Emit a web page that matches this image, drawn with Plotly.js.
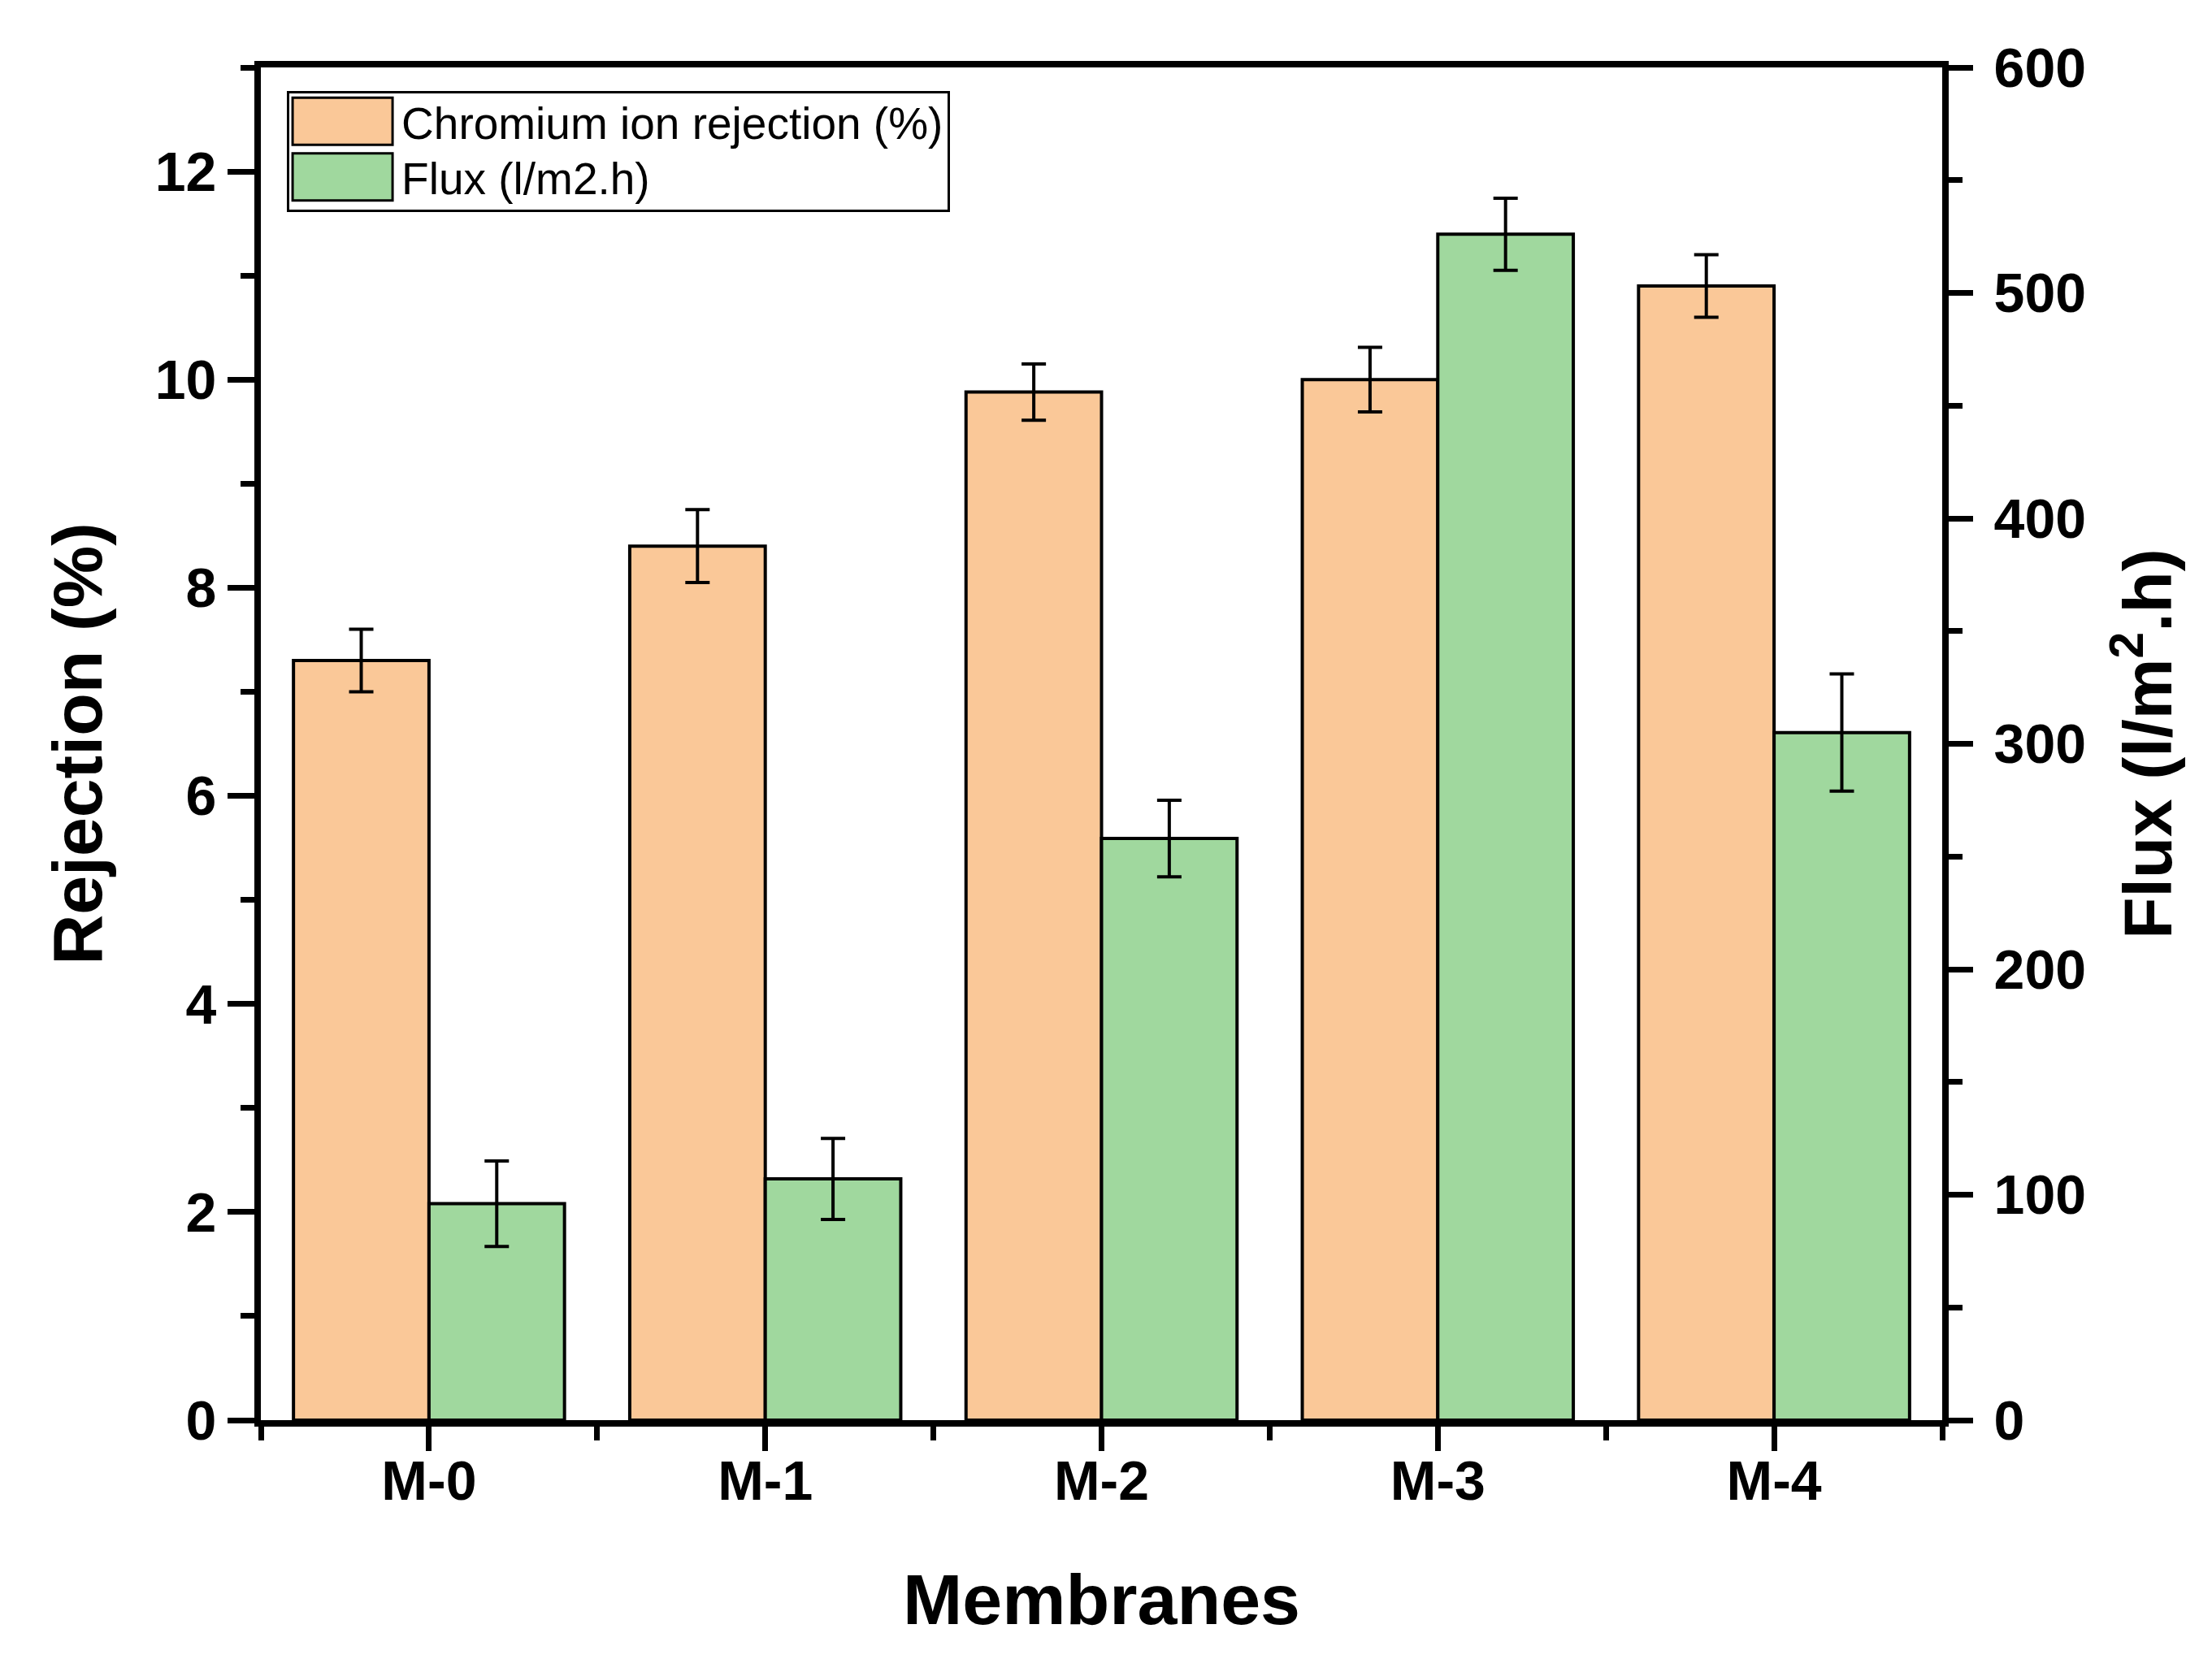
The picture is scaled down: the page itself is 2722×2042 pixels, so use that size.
<!DOCTYPE html>
<html>
<head>
<meta charset="utf-8">
<script src="https://cdn.plot.ly/plotly-3.0.1.min.js"></script>
<style>
  html, body { margin: 0; padding: 0; background: #ffffff; }
  #chart { width: 2722px; height: 2042px; }
</style>
</head>
<body>
<div id="chart"></div>
<script>
// ---- data ----
const categories = ['M-0', 'M-1', 'M-2', 'M-3', 'M-4'];
const rejection = [7.3, 8.4, 9.88, 10.0, 10.9];          // %
const rejectionErr = [0.3, 0.35, 0.27, 0.31, 0.3];
const flux = [96, 107, 258, 526, 305];                    // l/m2.h
const fluxErr = [19, 18, 17, 16, 26];
const seriesNames = ['Chromium ion rejection (%)', 'Flux (l/m2.h)'];
const leftTicks = [0, 2, 4, 6, 8, 10, 12];
const rightTicks = [0, 100, 200, 300, 400, 500, 600];

const xPos = categories.map((c, i) => i);

const FONT = 'Arial, "Liberation Sans", sans-serif';
const BAR_W = 0.403;

const data = [
  {
    type: 'bar', name: seriesNames[0],
    x: xPos, y: rejection, yaxis: 'y',
    width: BAR_W, offset: -BAR_W,
    marker: { color: '#FAC898', line: { color: '#000000', width: 4 } },
    error_y: { type: 'data', array: rejectionErr, visible: true, color: '#000000', thickness: 4, width: 15 }
  },
  {
    type: 'bar', name: seriesNames[1],
    x: xPos, y: flux, yaxis: 'y2',
    width: BAR_W, offset: 0,
    marker: { color: '#A0D89E', line: { color: '#000000', width: 4 } },
    error_y: { type: 'data', array: fluxErr, visible: true, color: '#000000', thickness: 4, width: 15 }
  }
];

const layout = {
  width: 2722, height: 2042,
  margin: { l: 321, r: 332, t: 83, b: 294, pad: 0 },
  paper_bgcolor: '#ffffff', plot_bgcolor: '#ffffff',
  barmode: 'overlay',
  showlegend: true,
  font: { family: FONT, color: '#000000' },
  xaxis: {
    range: [-0.5, 4.5],
    tickmode: 'array', tickvals: xPos, ticktext: categories,
    ticks: 'outside', ticklen: 30, tickwidth: 7, tickcolor: '#000000',
    minor: { dtick: 0.5, tick0: 0, ticks: 'outside', ticklen: 17, tickwidth: 7, tickcolor: '#000000' },
    showline: true, linewidth: 8, linecolor: '#000000', mirror: true,
    showgrid: false, zeroline: false,
    tickfont: { family: FONT, size: 68, weight: 'bold', color: '#000000' },
    ticklabelstandoff: -22,
    title: { text: 'Membranes', font: { family: FONT, size: 88, weight: 'bold', color: '#000000' }, standoff: 82 }
  },
  yaxis: {
    range: [0, 13],
    tickmode: 'array', tickvals: leftTicks,
    ticks: 'outside', ticklen: 33, tickwidth: 7, tickcolor: '#000000',
    minor: { dtick: 1, tick0: 0, ticks: 'outside', ticklen: 17, tickwidth: 7, tickcolor: '#000000' },
    showline: true, linewidth: 8, linecolor: '#000000',
    showgrid: false, zeroline: false,
    tickfont: { family: FONT, size: 68, weight: 'bold', color: '#000000' },
    ticklabelstandoff: 0,
    title: { text: 'Rejection (%)', font: { family: FONT, size: 86, weight: 'bold', color: '#000000' }, standoff: 40 }
  },
  yaxis2: {
    overlaying: 'y', side: 'right',
    range: [0, 600],
    tickmode: 'array', tickvals: rightTicks,
    ticks: 'outside', ticklen: 30, tickwidth: 7, tickcolor: '#000000',
    minor: { dtick: 50, tick0: 0, ticks: 'outside', ticklen: 17, tickwidth: 7, tickcolor: '#000000' },
    showline: true, linewidth: 8, linecolor: '#000000',
    showgrid: false, zeroline: false,
    tickfont: { family: FONT, size: 68, weight: 'bold', color: '#000000' },
    ticklabelstandoff: 12,
    title: { text: 'Flux (l/m<sup>2</sup>.h)', font: { family: FONT, size: 84, weight: 'bold', color: '#000000' }, standoff: 50 }
  },
  legend: {
    x: 0.0155, y: 0.9826, xanchor: 'left', yanchor: 'top',
    bgcolor: '#ffffff', bordercolor: '#000000', borderwidth: 3,
    font: { family: FONT, size: 55, color: '#000000' },
    itemwidth: 128, tracegroupgap: 0,
    traceorder: 'normal'
  }
};

function readTranslate(el) {
  const t = el.getAttribute('transform') || '';
  const m = t.match(/translate\(\s*([-\d.e]+)[ ,]+([-\d.e]+)\s*\)/);
  return m ? [parseFloat(m[1]), parseFloat(m[2])] : [0, 0];
}

const gd = document.getElementById('chart');
Plotly.newPlot(gd, data, layout, { staticPlot: true, displayModeBar: false }).then(() => {
  const traces = Array.from(gd.querySelectorAll('.legend .traces'));
  // tighten legend rows a little, as in the reference
  if (traces.length === 2) {
    const p0 = readTranslate(traces[0]);
    const p1 = readTranslate(traces[1]);
    traces[0].setAttribute('transform', `translate(${p0[0]},${p0[1] - 8})`);
    traces[1].setAttribute('transform', `translate(${p1[0]},${p1[1] - 14})`);
    const bg = gd.querySelector('.legend .bg');
    if (bg) {
      const h = parseFloat(bg.getAttribute('height'));
      if (!isNaN(h)) bg.setAttribute('height', h - 16);
    }
  }
  // enlarge legend swatches to match the reference's wide boxes
  traces.forEach(tr => {
    const txt = tr.querySelector('.legendtext');
    if (!txt) return;
    const tb = txt.getBBox();
    const trM = tr.getCTM();
    tr.querySelectorAll('.legendpoints path').forEach(p => {
      const m = trM.inverse().multiply(p.getCTM());
      const x1 = tb.x - 11 - m.e, x0 = x1 - 123;
      const y0 = -29 - m.f, y1 = 29 - m.f;
      p.setAttribute('d', `M${x0},${y0}H${x1}V${y1}H${x0}Z`);
      p.style.strokeWidth = '3px';
      p.style.stroke = '#000000';
    });
  });
});
</script>
</body>
</html>
